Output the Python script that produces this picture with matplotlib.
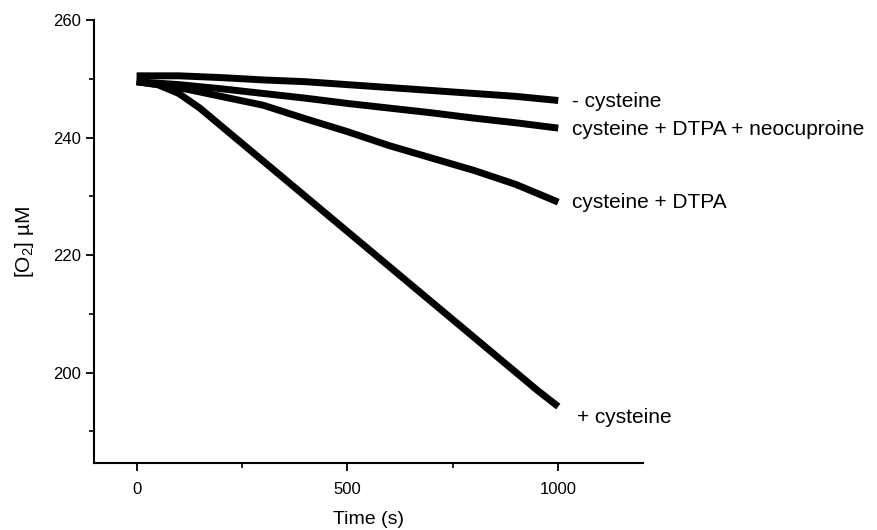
import matplotlib
matplotlib.use("Agg")
import matplotlib.pyplot as plt
from matplotlib.ticker import MultipleLocator

plt.rcParams['font.family'] = ['Liberation Sans', 'DejaVu Sans']
plt.rcParams['mathtext.fontset'] = 'custom'
plt.rcParams['mathtext.rm'] = 'Liberation Sans'
plt.rcParams['mathtext.it'] = 'Liberation Sans'

# Data
time_s = [0, 100, 200, 300, 400, 500, 600, 700, 800, 900, 1000]
no_cysteine = [250.5, 250.5, 250.2, 249.8, 249.5, 249.0, 248.5, 248.0, 247.5, 247.0, 246.3]
cys_dtpa_neo = [249.5, 249.0, 248.3, 247.5, 246.7, 245.8, 245.0, 244.2, 243.3, 242.5, 241.6]
cys_dtpa = [249.5, 248.5, 247.0, 245.5, 243.2, 241.0, 238.6, 236.5, 234.4, 232.0, 229.0]

time_plus = [0, 50, 100, 150, 200, 250, 300, 350, 400, 450, 500, 550, 600, 650, 700,
             750, 800, 850, 900, 950, 1000]
plus_cysteine = [249.5, 249.0, 247.5, 245.0, 242.0, 239.0, 236.0, 233.0, 230.0, 227.0,
                 224.0, 221.0, 218.0, 215.0, 212.0, 209.0, 206.0, 203.0, 200.0, 197.0, 194.2]

labels = ["- cysteine", "cysteine + DTPA + neocuproine", "cysteine + DTPA", "+ cysteine"]
label_pos = [(1032, 246.1), (1032, 241.3), (1032, 228.9), (1044, 192.3)]

fig = plt.figure(figsize=(8.78, 5.30), dpi=100)
ax = fig.add_axes([94/878, 1 - 463/530, (643 - 94)/878, (463 - 20)/530])

lw = 5.0
ax.plot(time_s, no_cysteine, color='black', lw=lw, solid_capstyle='butt')
ax.plot(time_s, cys_dtpa_neo, color='black', lw=lw, solid_capstyle='butt')
ax.plot(time_s, cys_dtpa, color='black', lw=lw, solid_capstyle='butt')
ax.plot(time_plus, plus_cysteine, color='black', lw=lw, solid_capstyle='butt')

for txt, (x, y) in zip(labels, label_pos):
    ax.text(x, y, txt, fontsize=15, va='center', ha='left', clip_on=False)

ax.set_xlim(-101, 1201)
ax.set_ylim(184.6, 260)
ax.xaxis.set_major_locator(MultipleLocator(500))
ax.xaxis.set_minor_locator(MultipleLocator(250))
ax.yaxis.set_major_locator(MultipleLocator(20))
ax.yaxis.set_minor_locator(MultipleLocator(10))
ax.spines['top'].set_visible(False)
ax.spines['right'].set_visible(False)
for s in ('left', 'bottom'):
    ax.spines[s].set_linewidth(1.5)
ax.tick_params(axis='both', which='major', direction='out', length=6, width=1.3, labelsize=12)
ax.tick_params(axis='both', which='minor', direction='out', length=3.5, width=1.2)
ax.tick_params(axis='x', pad=8)

ax.set_xlabel("Time (s)", fontsize=14, labelpad=10)
ax.set_ylabel("[O$_2$] µM", fontsize=15, labelpad=12)

fig.savefig("out.png", dpi=100)
